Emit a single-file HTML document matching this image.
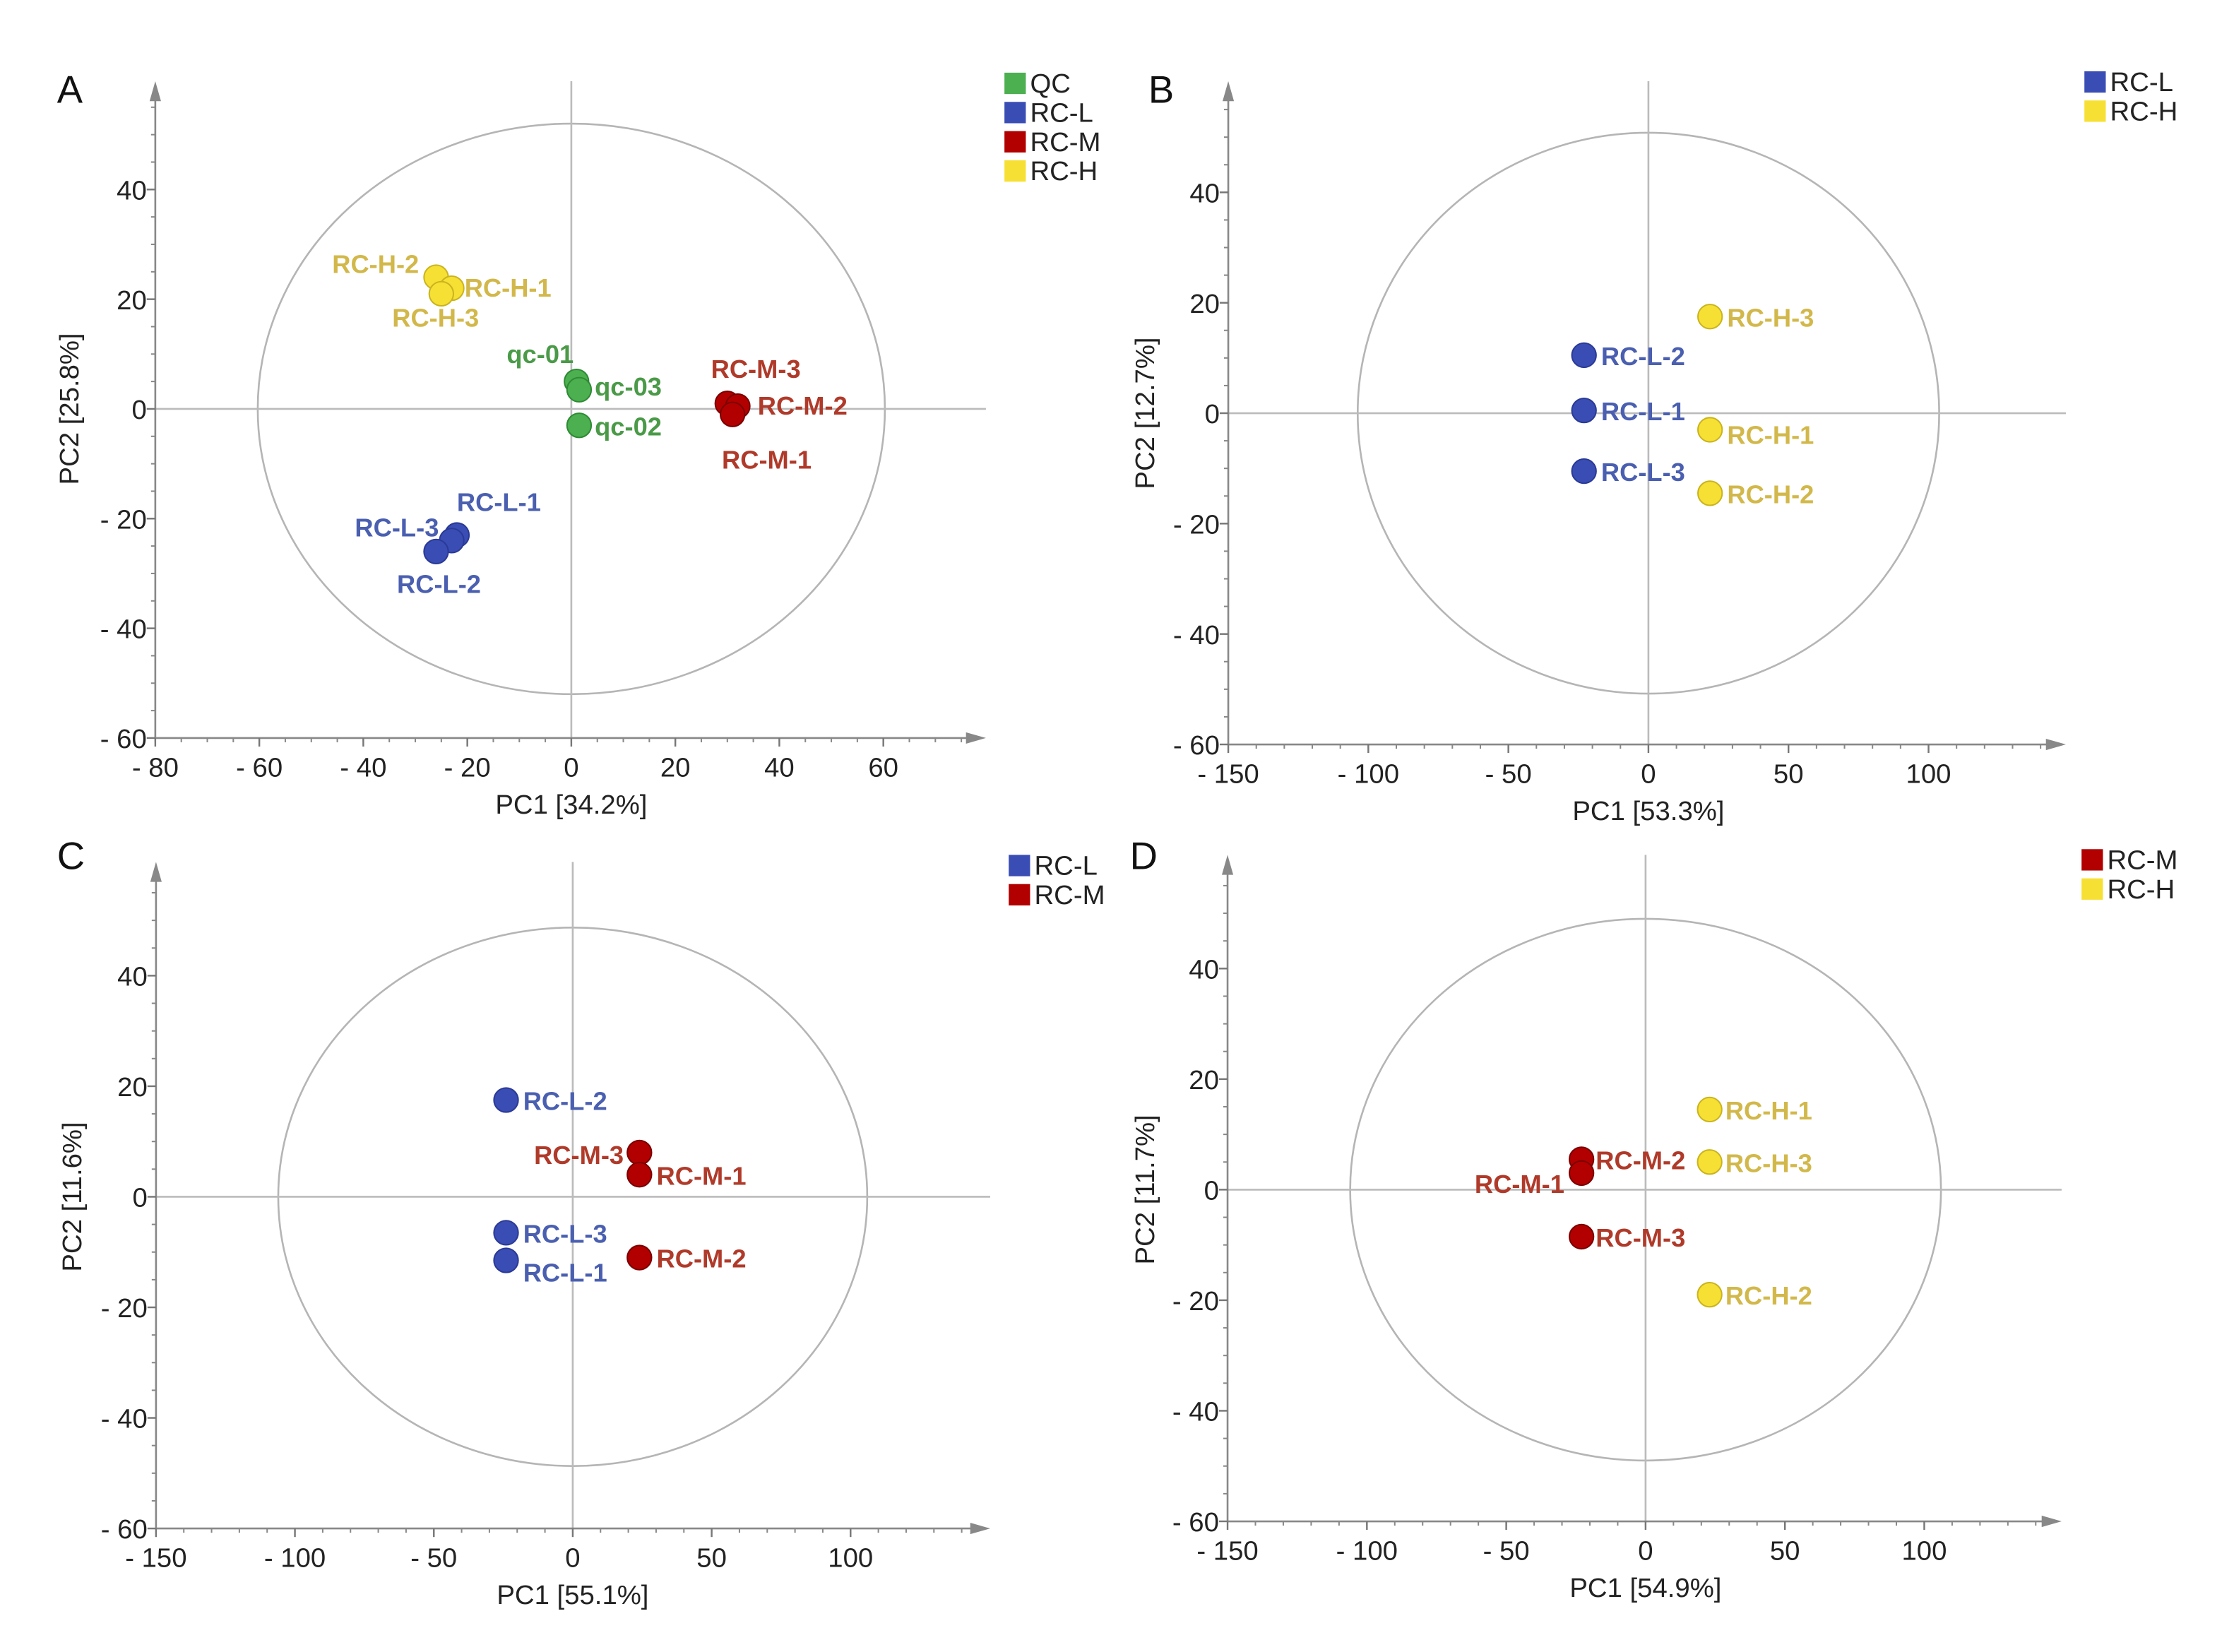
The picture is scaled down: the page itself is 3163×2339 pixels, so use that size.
<!DOCTYPE html>
<html><head><meta charset="utf-8"><style>
html,body{margin:0;padding:0;background:#fff;}
svg{display:block;}
text{font-family:"Liberation Sans Narrow","Liberation Sans",sans-serif;}
</style></head>
<body>
<svg id="fig" width="3163" height="2339" viewBox="0 0 1568 1159.5" xmlns="http://www.w3.org/2000/svg"></svg>
<script>
// Panel A data
const aLabels = ["RC-H-2","RC-H-1","RC-H-3","qc-01","qc-03","qc-02","RC-M-3","RC-M-2","RC-M-1","RC-L-1","RC-L-3","RC-L-2"];
const aGroups = ["H","H","H","Q","Q","Q","M","M","M","L","L","L"];
const aPC1 = [-26,-23,-25,1,1.5,1.5,30,32,31,-22,-23,-26];
const aPC2 = [24,22,21,5,3.5,-3,1,0.5,-1,-23,-24,-26];
// Panel B data
const bLabels = ["RC-L-2","RC-L-1","RC-L-3","RC-H-3","RC-H-1","RC-H-2"];
const bGroups = ["L","L","L","H","H","H"];
const bPC1 = [-23,-23,-23,22,22,22];
const bPC2 = [10.5,0.5,-10.5,17.5,-3,-14.5];
// Panel C data
const cLabels = ["RC-L-2","RC-L-3","RC-L-1","RC-M-3","RC-M-1","RC-M-2"];
const cGroups = ["L","L","L","M","M","M"];
const cPC1 = [-24,-24,-24,24,24,24];
const cPC2 = [17.5,-6.5,-11.5,8,4,-11];
// Panel D data
const dLabels = ["RC-M-2","RC-M-1","RC-M-3","RC-H-1","RC-H-3","RC-H-2"];
const dGroups = ["M","M","M","H","H","H"];
const dPC1 = [-23,-23,-23,23,23,23];
const dPC2 = [5.5,3,-8.5,14.5,5,-19];
// ticks
const aXTicks = [-80,-60,-40,-20,0,20,40,60];
const wideXTicks = [-150,-100,-50,0,50,100];
const yTicks = [-60,-40,-20,0,20,40];
const aXTitle = "PC1 [34.2%]", aYTitle = "PC2 [25.8%]";
const bXTitle = "PC1 [53.3%]", bYTitle = "PC2 [12.7%]";
const cXTitle = "PC1 [55.1%]", cYTitle = "PC2 [11.6%]";
const dXTitle = "PC1 [54.9%]", dYTitle = "PC2 [11.7%]";

const fill = {Q:"#4caf50",L:"#3a4db5",M:"#b20000",H:"#f7e034"};
const stroke = {Q:"#2e8a33",L:"#2a3a95",M:"#7a0000",H:"#c9b41e"};
const tcol = {Q:"#4a9a48",L:"#4a5fb0",M:"#b03a2a",H:"#d2b84a"};
const gname = {Q:"QC",L:"RC-L",M:"RC-M",H:"RC-H"};
const NS="http://www.w3.org/2000/svg";
const svg=document.getElementById('fig');
function mk(tag,attrs,parent){const e=document.createElementNS(NS,tag);for(const k in attrs)e.setAttribute(k,attrs[k]);(parent||svg).appendChild(e);return e;}

function panel(p){
  const g=mk('g',{});
  
  
  const sx=v=>p.x0+(v)*p.kx, sy=v=>p.y0-(v)*p.ky;
  const xl=sx(p.xmin), yb=sy(-60);
  // letter
  const L=mk('text',{x:p.letX,y:p.letY,'font-size':27,fill:'#111'},g);L.textContent=p.id;
  
  
  // ellipse
  const el=mk('ellipse',{cx:sx(0),cy:sy(0),rx:p.erx*p.kx,ry:p.ery*p.ky,fill:'none',stroke:'#b5b5b5','stroke-width':1.3},g);
  
  
  // zero lines
  const zl1=mk('line',{x1:sx(0),y1:p.top,x2:sx(0),y2:yb,stroke:'#bbb','stroke-width':1.3},g);
  
  
  const zl2=mk('line',{x1:xl,y1:sy(0),x2:p.right,y2:sy(0),stroke:'#bbb','stroke-width':1.3},g);
  
  
  // axes
  const ya=mk('line',{x1:xl,y1:yb,x2:xl,y2:p.top+10,stroke:'#888','stroke-width':1.3},g);
  
  
  mk('path',{d:`M${xl-4},${p.top+14} L${xl},${p.top} L${xl+4},${p.top+14}Z`,fill:'#888'},g);
  const xa=mk('line',{x1:xl,y1:yb,x2:p.right-10,y2:yb,stroke:'#888','stroke-width':1.3},g);
  
  
  mk('path',{d:`M${p.right-14},${yb-4} L${p.right},${yb} L${p.right-14},${yb+4}Z`,fill:'#888'},g);
  // minor ticks
  for(let v=p.xmin;sx(v)<p.right-14;v+=p.xminor){mk('line',{x1:sx(v),y1:yb,x2:sx(v),y2:yb+3,stroke:'#888','stroke-width':1},g);}
  for(let v=-60;sy(v)>p.top+14;v+=5){mk('line',{x1:xl,y1:sy(v),x2:xl-3,y2:sy(v),stroke:'#888','stroke-width':1},g);}
  p.xt.forEach(v=>{
    mk('line',{x1:sx(v),y1:yb,x2:sx(v),y2:yb+6,stroke:'#777','stroke-width':1.2},g);
    const t=mk('text',{x:sx(v),y:yb+27,'font-size':19,'text-anchor':'middle',fill:'#222'},g);
    t.textContent=v<0?'- '+(-v):String(v);
    
    
  });
  yTicks.forEach(v=>{
    mk('line',{x1:xl,y1:sy(v),x2:xl-6,y2:sy(v),stroke:'#777','stroke-width':1.2},g);
    const t=mk('text',{x:xl-6,y:sy(v)+7,'font-size':19,'text-anchor':'end',fill:'#222'},g);
    t.textContent=v<0?'- '+(-v):String(v);
    
    
  });
  const xt=mk('text',{x:sx(0),y:yb+53,'font-size':19,'text-anchor':'middle',fill:'#222'},g);xt.textContent=p.xtitle;
  
  
  const yty=sy(0);
  const yt=mk('text',{x:p.ytx,y:yty,'font-size':19,'text-anchor':'middle',fill:'#222',transform:`rotate(-90 ${p.ytx} ${yty})`},g);yt.textContent=p.ytitle;
  
  
  // points
  p.pc1.forEach((v,i)=>{
    const gr=p.groups[i];
    const c=mk('circle',{cx:sx(v),cy:sy(p.pc2[i]),r:8.5,fill:fill[gr],stroke:stroke[gr],'stroke-width':1},g);
    
    
  });
  p.pc1.forEach((v,i)=>{
    const gr=p.groups[i], o=p.off[i];
    const t=mk('text',{x:sx(v)+o[0],y:sy(p.pc2[i])+o[1],'font-size':18,'font-weight':'bold','text-anchor':o[2]||'start',fill:tcol[gr]},g);
    t.textContent=p.labels[i];
    
    
  });
  // legend
  p.legend.forEach((gr,i)=>{
    const ly=p.legY+i*20.5;
    const r=mk('rect',{x:p.legX,y:ly,width:15,height:15,fill:fill[gr]},g);
    
    
    const t=mk('text',{x:p.legX+18,y:ly+14,'font-size':19,fill:'#222'},g);t.textContent=gname[gr];
    
    
  });
}

panel({id:'A',x0:401,y0:287,kx:73/20,ky:77/20,xmin:-80,xminor:5,top:57,right:692,erx:60.3,ery:52,
  xt:aXTicks,xtitle:aXTitle,ytitle:aYTitle,ytx:55,letX:40,letY:72,labels:aLabels,groups:aGroups,pc1:aPC1,pc2:aPC2,
  off:[[-12,-3,'end'],[9,6],[-4,23,'middle'],[-2,-13,'end'],[11,4],[11,7],[20,-18,'middle'],[14,6],[24,38,'middle'],[0,-17],[-9,-3,'end'],[2,29,'middle']],
  legend:['Q','L','M','H'],legX:705,legY:51});
panel({id:'B',x0:1157,y0:290,kx:98.3/50,ky:77.5/20,xmin:-150,xminor:10,top:57,right:1450,erx:103.8,ery:50.8,
  xt:wideXTicks,xtitle:bXTitle,ytitle:bYTitle,ytx:810,letX:806,letY:72,labels:bLabels,groups:bGroups,pc1:bPC1,pc2:bPC2,
  off:[[12,7],[12,7],[12,7],[12,7],[12,10],[12,7]],
  legend:['L','H'],legX:1463,legY:50});
panel({id:'C',x0:402,y0:840,kx:97.5/50,ky:77.6/20,xmin:-150,xminor:10,top:605,right:695,erx:106,ery:48.7,
  xt:wideXTicks,xtitle:cXTitle,ytitle:cYTitle,ytx:57,letX:40,letY:610,labels:cLabels,groups:cGroups,pc1:cPC1,pc2:cPC2,
  off:[[12,7],[12,7],[12,15],[-11,8,'end'],[12,7],[12,7]],
  legend:['L','M'],legX:708,legY:600});
panel({id:'D',x0:1155,y0:835,kx:97.8/50,ky:77.6/20,xmin:-150,xminor:10,top:600,right:1447,erx:106,ery:49,
  xt:wideXTicks,xtitle:dXTitle,ytitle:dYTitle,ytx:810,letX:793,letY:610,labels:dLabels,groups:dGroups,pc1:dPC1,pc2:dPC2,
  off:[[10,7],[-12,14,'end'],[10,7],[11,7],[11,7],[11,7]],
  legend:['M','H'],legX:1461,legY:596});
</script>
</body></html>
